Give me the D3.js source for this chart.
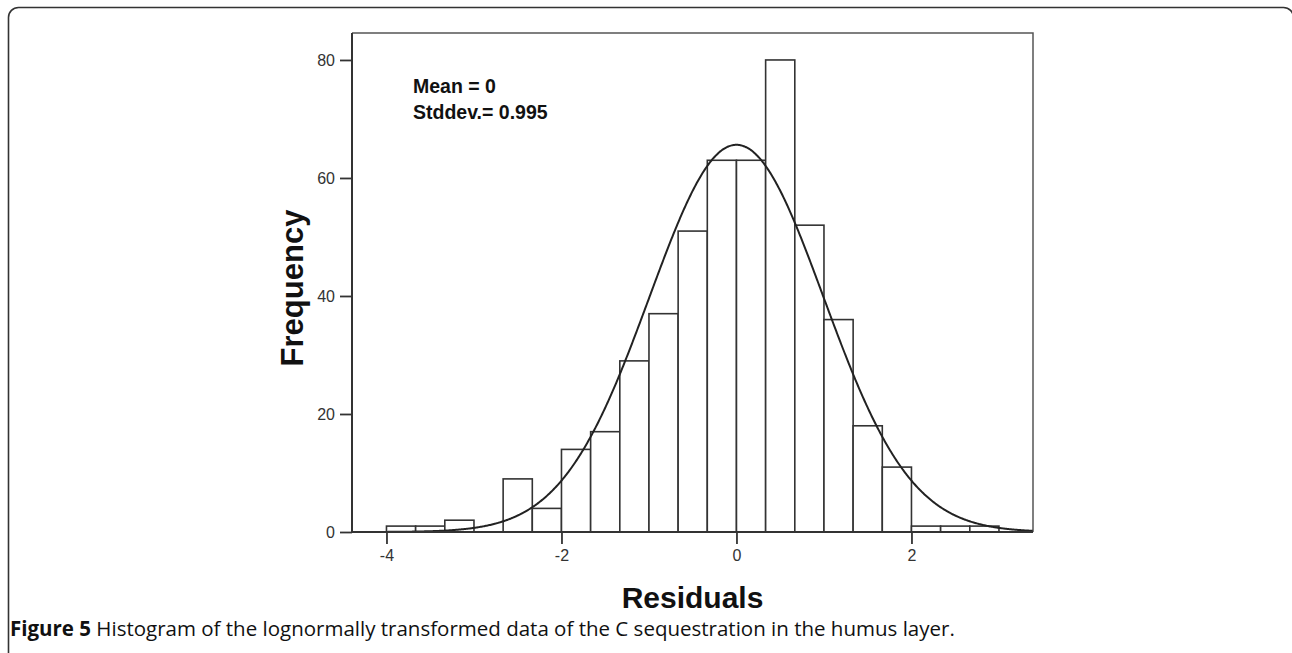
<!DOCTYPE html>
<html>
<head>
<meta charset="utf-8">
<script src="https://cdn.jsdelivr.net/npm/d3@7/dist/d3.min.js"></script>
<style>
  html, body { margin: 0; padding: 0; background: #fff; }
  svg { display: block; }
</style>
</head>
<body>
<svg id="chart" width="1292" height="653"></svg>
<script>
// ---- Data ----
const binStarts = [-4, -11/3, -10/3, -3, -8/3, -7/3, -2, -5/3, -4/3, -1, -2/3, -1/3, 0, 1/3, 2/3, 1, 4/3, 5/3, 2, 7/3, 8/3];
const binWidth = 1/3;
const counts = [1, 1, 2, 0, 9, 4, 14, 17, 29, 37, 51, 63, 63, 80, 52, 36, 18, 11, 1, 1, 1];
const xTicks = [-4, -2, 0, 2];
const yTicks = [0, 20, 40, 60, 80];
const meanVal = 0;
const sdVal = 0.995;
const statLines = ["Mean = 0", "Stddev.= 0.995"];
const xTitle = "Residuals";
const yTitle = "Frequency";
const captionBold = "Figure 5";
const captionText = " Histogram of the lognormally transformed data of the C sequestration in the humus layer.";

// ---- Layout ----
const svg = d3.select("#chart");
const plot = { left: 352, right: 1033, top: 33, bottom: 532 };

const x = d3.scaleLinear().domain([-4.394, 3.389]).range([plot.left, plot.right]);
const y = d3.scaleLinear().domain([0, 84.57]).range([plot.bottom, plot.top]);

// outer frame
svg.append("rect")
  .attr("x", 8.5).attr("y", 7.5)
  .attr("width", 1285).attr("height", 720)
  .attr("rx", 10).attr("ry", 10)
  .attr("fill", "none").attr("stroke", "#333").attr("stroke-width", 1.6);

// plot frame (top & right)
svg.append("path")
  .attr("d", `M${plot.left},${plot.top}H${plot.right}V${plot.bottom}`)
  .attr("fill", "none").attr("stroke", "#555").attr("stroke-width", 1.5);

// bars
const bins = binStarts.map((s, i) => ({ x0: s, x1: s + binWidth, n: counts[i] }));
svg.append("g").selectAll("rect")
  .data(bins.filter(d => d.n > 0))
  .join("rect")
  .attr("x", d => x(d.x0))
  .attr("y", d => y(d.n))
  .attr("width", d => x(d.x1) - x(d.x0))
  .attr("height", d => y(0) - y(d.n))
  .attr("fill", "#fff")
  .attr("stroke", "#333")
  .attr("stroke-width", 1.6);

// normal curve from displayed mean / sd
const total = d3.sum(counts);
const dom = x.domain();
const curvePts = d3.range(dom[0], dom[1] + 0.0001, 0.01).map(v => {
  const z = (v - meanVal) / sdVal;
  return [v, total * binWidth / (sdVal * Math.sqrt(2 * Math.PI)) * Math.exp(-0.5 * z * z)];
});
svg.append("path")
  .datum(curvePts)
  .attr("d", d3.line().x(d => x(d[0])).y(d => y(d[1])).curve(d3.curveBasis))
  .attr("fill", "none")
  .attr("stroke", "#222")
  .attr("stroke-width", 2);

// axes
const xAxis = svg.append("g")
  .attr("transform", `translate(0,${plot.bottom})`)
  .call(d3.axisBottom(x).tickValues(xTicks).tickSize(12).tickPadding(6).tickFormat(d => String(d)));
const yAxis = svg.append("g")
  .attr("transform", `translate(${plot.left},0)`)
  .call(d3.axisLeft(y).tickValues(yTicks).tickSize(12).tickPadding(5).tickFormat(d => String(d)));

[xAxis, yAxis].forEach(g => {
  g.attr("font-size", 16).attr("font-family", "Arial, 'Liberation Sans', sans-serif");
  g.select(".domain").remove();
  g.selectAll(".tick line").attr("stroke", "#333").attr("stroke-width", 1.8);
  g.selectAll(".tick text")
    .attr("fill", "#333")
    .attr("font-size", 16);
});
// axis lines (left & bottom)
svg.append("path")
  .attr("d", `M${plot.left},${plot.top}V${plot.bottom}H${plot.right}`)
  .attr("fill", "none").attr("stroke", "#333").attr("stroke-width", 2);

// stats text
svg.append("g").selectAll("text")
  .data(statLines)
  .join("text")
  .attr("x", 413)
  .attr("y", (d, i) => 93 + i * 26)
  .attr("fill", "#111")
  .attr("font-family", "Arial, 'Liberation Sans', sans-serif")
  .attr("font-weight", "bold")
  .attr("font-size", 19.5)
  .text(d => d);

// axis titles
svg.append("text")
  .attr("x", (plot.left + plot.right) / 2)
  .attr("y", 608)
  .attr("text-anchor", "middle")
  .attr("fill", "#111")
  .attr("font-family", "Arial, 'Liberation Sans', sans-serif")
  .attr("font-weight", "bold")
  .attr("font-size", 30)
  .text(xTitle);

svg.append("text")
  .attr("transform", "translate(303,288) rotate(-90)")
  .attr("text-anchor", "middle")
  .attr("fill", "#111")
  .attr("font-family", "Arial, 'Liberation Sans', sans-serif")
  .attr("font-weight", "bold")
  .attr("font-size", 31)
  .text(yTitle);

// caption
const cap = svg.append("text")
  .attr("x", 10)
  .attr("y", 636)
  .attr("fill", "#111")
  .attr("font-family", "'Open Sans', 'Noto Sans', sans-serif")
  .attr("font-size", 20.5);
cap.append("tspan").attr("font-weight", "bold").text(captionBold);
cap.append("tspan").text(captionText);
</script>
</body>
</html>
